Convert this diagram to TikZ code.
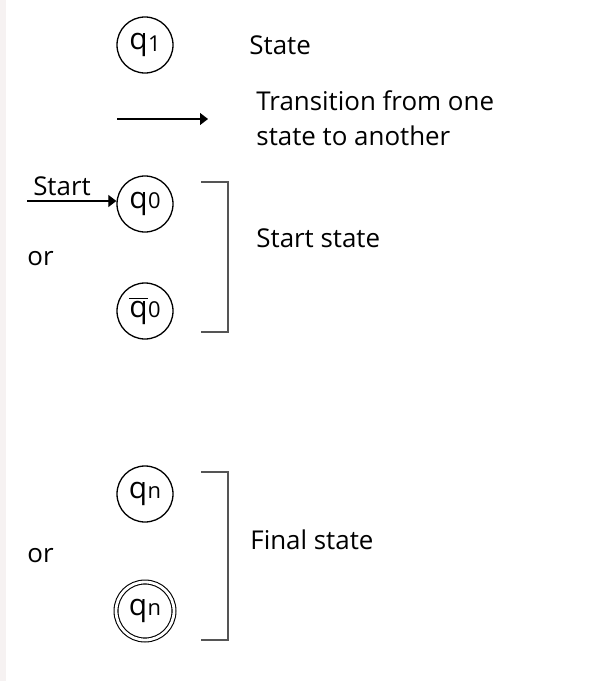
\documentclass[tikz,border=0pt]{standalone}
\usepackage{fontspec}
\setmainfont{Open Sans}
\usetikzlibrary{arrows.meta}
\definecolor{stripgray}{RGB}{246,242,242}
\definecolor{bracketgray}{RGB}{85,85,85}
\newcommand\qsub[2]{{\fontsize{15}{15}\selectfont #1}\kern0.2pt{\fontsize{11}{11}\selectfont #2}}

\begin{document}
\begin{tikzpicture}[x=0.5bp,y=-0.5bp,
		font=\fontsize{13}{17.5}\selectfont,
		state/.style={draw,circle,line width=0.65pt,minimum size=28bp,inner sep=0pt},
		final/.style={state,double,double distance=1.4bp,line width=0.55pt},
		arr/.style={-{Triangle[length=4bp,width=6bp]},line width=0.6pt},
		bracket/.style={draw=bracketgray,line width=0.7pt},
		txt/.style={anchor=west,inner sep=0pt,align=left}]
		
		% the page and its light strip on the left
		\useasboundingbox (0,0) rectangle (593,681);
		\fill[white] (0,0) rectangle (593,681);
		\fill[stripgray] (0,0) rectangle (6,681);
		
		% we draw the state
		\node[state] (q1) at (145,45) {\qsub{q}{\raisebox{-1bp}{1}}};
		\node[txt] (lstate) at (249,45) {State};
		
		% we draw the transition arrow
		\coordinate (tfrom) at (117,119);
		\coordinate (tto) at (208,119);
		\draw[arr] (tfrom) -- (tto);
		\node[txt] (ltrans) at (256,118) {Transition from one\\state to another};
		
		% we draw the two start states
		\node[state] (q0) at (145,204) {\qsub{q}{0}};
		\node[state] (q0bar) at (145,311) {\qsub{$\overline{\mbox{q}}$}{0}};
		\coordinate (sfrom) at (27,201);
		\draw[arr] (sfrom) -- (q0.west |- sfrom);
		\node[inner sep=0pt] (lstart) at (62,186) {Start};
		\node[txt] (lor1) at (27,259) {or};
		\draw[bracket] (201,182) -| (228,332) -- (201,332);
		\node[txt] (lstartstate) at (256,238) {Start state};
		
		% we draw the two final states
		\node[state] (qn) at (145,494) {\qsub{q}{n}};
		\node[final,minimum size=29bp] (qnf) at (145,611) {\qsub{q}{n}};
		\node[txt] (lor2) at (27,556) {or};
		\draw[bracket] (201,472) -| (228,640) -- (201,640);
		\node[txt] (lfinal) at (250,540) {Final state};
		
	\end{tikzpicture}
\end{document}
